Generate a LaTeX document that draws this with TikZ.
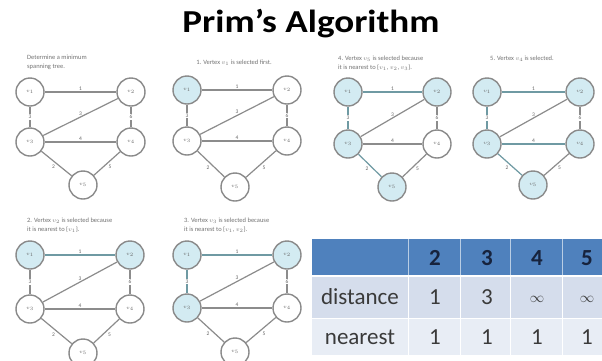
\documentclass[tikz,border=0pt]{standalone}
\usepackage{fontspec}
\setmainfont{Carlito}
\definecolor{selfill}{HTML}{D3EBF2}
\definecolor{ringgray}{HTML}{8A8A8A}
\definecolor{edgegray}{HTML}{8C8C8C}
\definecolor{treeedge}{HTML}{6F9AA3}
\definecolor{hdrblue}{HTML}{4F81BD}
\definecolor{rowa}{HTML}{D5DDEC}
\definecolor{rowb}{HTML}{E8EDF5}
\definecolor{hdrtext}{HTML}{17233D}
\definecolor{bodytext}{HTML}{3A3A3A}
\tikzset{
  vtx/.style={circle, draw=ringgray, line width=1.4pt, minimum size=28pt, inner sep=0pt, font=\fontsize{5}{5}\selectfont, text=black!60},
  vsel/.style={fill=selfill},
  vun/.style={fill=white},
  edge/.style={draw=edgegray, line width=1.2pt},
  tree/.style={draw=treeedge},
  plain/.style={},
  wl/.style={font=\fontsize{5.5}{5.5}\selectfont, text=black!60, inner sep=1pt},
  wlw/.style={wl, fill=white},
  captxt/.style={font=\fontsize{6.5}{9}\selectfont, text=black!55, align=left, anchor=north west, inner sep=0pt},
  cellt/.style={font=\fontsize{23}{23}\selectfont, text=bodytext, inner sep=0pt},
  hdrt/.style={font=\fontsize{23}{23}\selectfont\bfseries, text=hdrtext, inner sep=0pt},
}
\newcommand\panel[7]{%
  \node[vtx,n1] (#1v1) at (#2,#4) {$v_1$};
  \node[vtx,n2] (#1v2) at (#3,#4) {$v_2$};
  \node[vtx,n3] (#1v3) at (#2,#5) {$v_3$};
  \node[vtx,n4] (#1v4) at (#3,#5) {$v_4$};
  \node[vtx,n5] (#1v5) at (#7,#6) {$v_5$};
  \draw[edge,t12] (#1v1) -- node[wl,above]{1} (#1v2);
  \draw[edge,t13] (#1v1) -- node[wlw]{3} (#1v3);
  \draw[edge,t23] (#1v3) -- node[wl,above,pos=0.5]{3} (#1v2);
  \draw[edge,t24] (#1v2) -- node[wlw]{6} (#1v4);
  \draw[edge,t34] (#1v3) -- node[wl,above]{4} (#1v4);
  \draw[edge,t35] (#1v3) -- node[wl,below left]{2} (#1v5);
  \draw[edge,t45] (#1v4) -- node[wl,below right]{5} (#1v5);
}
\newcommand\setstates[5]{\tikzset{n1/.style={#1},n2/.style={#2},n3/.style={#3},n4/.style={#4},n5/.style={#5}}}
\newcommand\settree[7]{\tikzset{t12/.style={#1},t13/.style={#2},t23/.style={#3},t24/.style={#4},t34/.style={#5},t35/.style={#6},t45/.style={#7}}}
\begin{document}
\begin{tikzpicture}[x=1pt,y=-1pt]
\useasboundingbox (0,0) rectangle (602,360);
\clip (0,0) rectangle (602,360);
\fill[white] (0,0) rectangle (602,360);

\node[font=\fontsize{32}{32}\selectfont\bfseries, inner sep=0pt] (title) at (311,24) {\scalebox{1.16}[1]{Prim’s Algorithm}};

% panel 1
\setstates{vun}{vun}{vun}{vun}{vun}
\settree{plain}{plain}{plain}{plain}{plain}{plain}{plain}
\node[captxt] (c1) at (27,55) {Determine a minimum\\spanning tree.};
\panel{a}{30}{131}{92}{142}{185}{83}

% panel 2
\setstates{vsel}{vun}{vun}{vun}{vun}
\node[captxt,anchor=north] (c2) at (234,60) {1. Vertex $v_1$ is selected first.};
\panel{b}{187}{287}{90}{141}{187}{235}

% panel 3
\setstates{vsel}{vsel}{vsel}{vun}{vsel}
\settree{tree}{tree}{plain}{plain}{plain}{tree}{plain}
\node[captxt] (c3) at (338,56) {4. Vertex $v_5$ is selected because\\it is nearest to \{$v_1$, $v_2$, $v_3$\}.};
\panel{c}{348}{437}{92}{144}{187}{392}

% panel 4
\setstates{vsel}{vsel}{vsel}{vsel}{vsel}
\settree{tree}{tree}{plain}{plain}{tree}{tree}{plain}
\node[captxt,anchor=north] (c4) at (522,56) {5. Vertex $v_4$ is selected.};
\panel{d}{487}{580}{92}{144}{185}{533}

% panel 5
\setstates{vsel}{vsel}{vun}{vun}{vun}
\settree{tree}{plain}{plain}{plain}{plain}{plain}{plain}
\node[captxt] (c5) at (27,218) {2. Vertex $v_2$ is selected because\\it is nearest to \{$v_1$\}.};
\panel{e}{30}{130}{255}{309}{353}{83}

% panel 6
\setstates{vsel}{vsel}{vsel}{vun}{vun}
\settree{tree}{tree}{plain}{plain}{plain}{plain}{plain}
\node[captxt] (c6) at (184,218) {3. Vertex $v_3$ is selected because\\it is nearest to \{$v_1$, $v_2$\}.};
\panel{f}{187}{287}{255}{308}{352}{235}

% table
\fill[hdrblue] (312,239) rectangle (602,276);
\fill[rowa] (312,276) rectangle (602,318);
\fill[rowb] (312,318) rectangle (602,355);
\foreach \xx in {408,460,510,562}{
  \draw[white!60!hdrblue, line width=1pt] (\xx,239) -- (\xx,276);
  \draw[white, line width=1pt] (\xx,276) -- (\xx,355);
}
\draw[white, line width=1.2pt] (312,276) -- (602,276);
\draw[white, line width=1pt] (312,318) -- (602,318);

\node[hdrt] (h2) at (435,258) {2};
\node[hdrt] (h3) at (487,258) {3};
\node[hdrt] (h4) at (537,258) {4};
\node[hdrt] (h5) at (587,258) {5};
\node[cellt] (rd) at (360,297) {distance};
\node[cellt] (d2) at (435,297) {1};
\node[cellt] (d3) at (487,297) {3};
\node[cellt,font=\fontsize{15}{15}\selectfont] (d4) at (537,299) {$\infty$};
\node[cellt,font=\fontsize{15}{15}\selectfont] (d5) at (587,299) {$\infty$};
\node[cellt] (rn) at (360,337) {nearest};
\node[cellt] (n2) at (435,337) {1};
\node[cellt] (n3) at (487,337) {1};
\node[cellt] (n4) at (537,337) {1};
\node[cellt] (n5) at (587,337) {1};
\end{tikzpicture}
\end{document}
